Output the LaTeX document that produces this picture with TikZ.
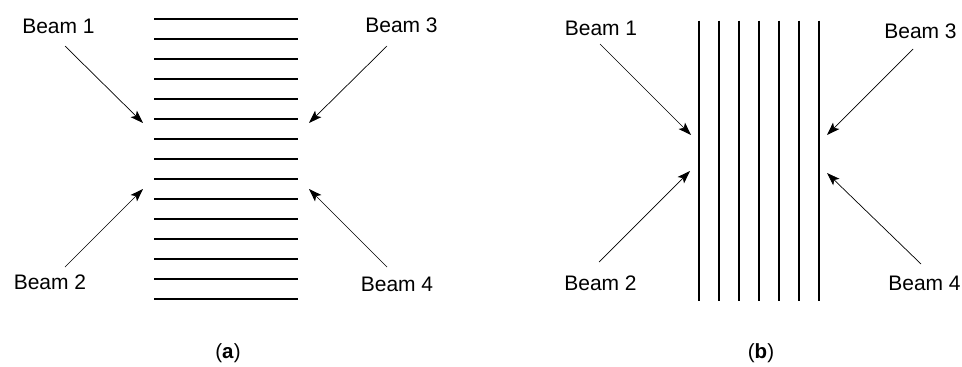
\documentclass[tikz,border=0pt]{standalone}
\usepackage{fontspec}
\setmainfont{Liberation Sans}
\usetikzlibrary{arrows.meta}
\begin{document}
\begin{tikzpicture}[x=1pt,y=-1pt,
  grating/.style={line width=2.7pt},
  beamarrow/.style={line width=0.7pt,-{Stealth[length=13pt,width=9pt,inset=3pt]}},
  beamlabel/.style={font=\fontsize{21}{24}\selectfont,inner sep=0pt},
  caption/.style={font=\fontsize{20.5}{24}\selectfont,inner sep=0pt}]
\useasboundingbox (0,0) rectangle (962,367);

% ---------- (a): horizontal lines ----------
\foreach \k in {0,...,14}
  \draw[grating] (154,19+20*\k) -- (298,19+20*\k);

\node[beamlabel] (a1) at (58.5,26) {Beam 1};
\node[beamlabel] (a3) at (401.5,25) {Beam 3};
\node[beamlabel] (a2) at (50,282) {Beam 2};
\node[beamlabel] (a4) at (397,284) {Beam 4};

\coordinate (a1s) at (65,46);   \coordinate (a1e) at (143,123);
\coordinate (a3s) at (387,46);  \coordinate (a3e) at (309,123);
\coordinate (a2s) at (65,267);  \coordinate (a2e) at (143,189);
\coordinate (a4s) at (387,267); \coordinate (a4e) at (309,189);

\draw[beamarrow] (a1s) -- (a1e);
\draw[beamarrow] (a3s) -- (a3e);
\draw[beamarrow] (a2s) -- (a2e);
\draw[beamarrow] (a4s) -- (a4e);

\node[caption] (capa) at (228,353) {(\textbf{a})};

% ---------- (b): vertical lines ----------
\foreach \k in {0,...,6}
  \draw[grating,line width=2.3pt] (699+20*\k,20.5) -- (699+20*\k,301);

\node[beamlabel] (b1) at (601,28.5) {Beam 1};
\node[beamlabel] (b3) at (920.5,31.5) {Beam 3};
\node[beamlabel] (b2) at (600.5,283.5) {Beam 2};
\node[beamlabel] (b4) at (924.5,283.5) {Beam 4};

\coordinate (b1s) at (600,44);  \coordinate (b1e) at (691,135);
\coordinate (b3s) at (913,49);  \coordinate (b3e) at (827,135);
\coordinate (b2s) at (599,262); \coordinate (b2e) at (690,171);
\coordinate (b4s) at (921,264); \coordinate (b4e) at (827,173);

\draw[beamarrow] (b1s) -- (b1e);
\draw[beamarrow] (b3s) -- (b3e);
\draw[beamarrow] (b2s) -- (b2e);
\draw[beamarrow] (b4s) -- (b4e);

\node[caption] (capb) at (761,353) {(\textbf{b})};
\end{tikzpicture}
\end{document}
